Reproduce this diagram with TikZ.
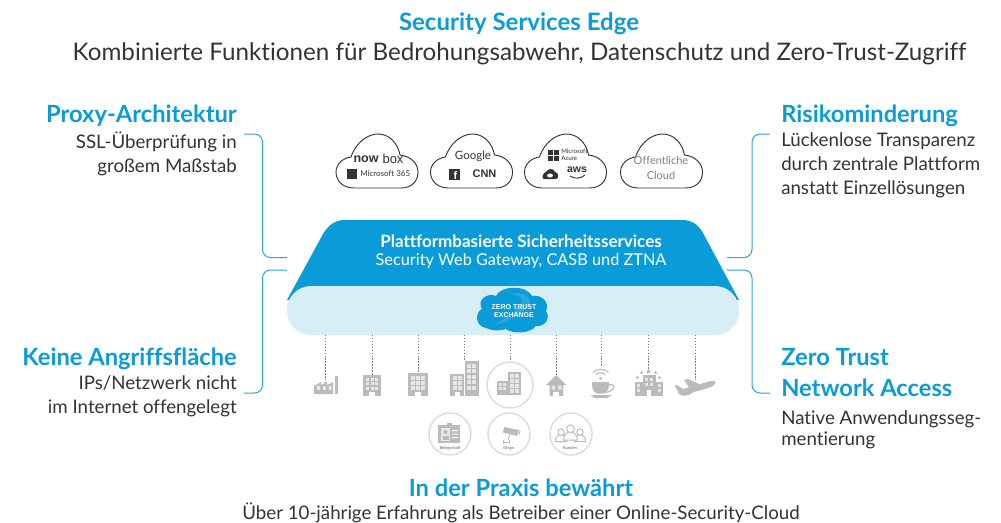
\documentclass[tikz,border=0pt]{standalone}
\usepackage{fontspec}
\setmainfont{Lato}[Ligatures=CommonOff]
\newfontfamily\arialfont{Liberation Sans}
\definecolor{brandblue}{HTML}{0A9CD8}
\definecolor{swirlblue}{HTML}{2AA9DE}
\definecolor{bandblue}{HTML}{D7EEF7}
\definecolor{inktext}{HTML}{333333}
\definecolor{icongray}{HTML}{BBBBBB}
\definecolor{iconlight}{HTML}{E6E6E6}
\definecolor{ringgray}{HTML}{DDDDDD}
\definecolor{bracketblue}{HTML}{2AA5DC}
\newcommand{\pxfont}[2]{\fontsize{\dimexpr#1pt*3/4\relax}{\dimexpr#2pt*3/4\relax}\selectfont}
\newcommand{\winds}[8]{\foreach \ii in {1,...,#3}{\foreach \jj in {1,...,#4}{%
  \fill[iconlight] ({#1+(\ii-1)*#7},{#2+(\jj-1)*#8}) rectangle ++(#5,#6);}}}
\newcommand{\starat}[3]{\begin{scope}[shift={(#1,#2)},scale=#3]
  \fill[icongray] (0,-1)--(.28,-.32)--(1,-.3)--(.45,.14)--(.62,.85)--(0,.45)--(-.62,.85)--(-.45,.14)--(-1,-.3)--(-.28,-.32)--cycle;
  \end{scope}}
\newcommand{\personat}[3]{\begin{scope}[shift={(#1,#2)},scale=#3]
  \draw[icongray,fill=white,line width=.7pt] (-6,8) .. controls (-6,3) and (-3,2) .. (-2,1) -- (2,1) .. controls (3,2) and (6,3) .. (6,8) -- cycle;
  \draw[icongray,fill=white,line width=.7pt] (0,-2) circle[radius=3.4];
  \end{scope}}
\tikzset{
  x=0.75pt,y=-0.75pt,
  heading/.style={font=\pxfont{23.7}{27}\bfseries,text=brandblue,inner sep=0pt},
  bodyleft/.style={font=\pxfont{18.7}{24},text=inktext,inner sep=0pt,align=right,anchor=north east},
  bodyright/.style={font=\pxfont{18.7}{24},text=inktext,inner sep=0pt,align=left,anchor=north west},
  bracket/.style={draw=bracketblue,line width=.75pt,rounded corners=6pt},
  droplink/.style={draw=gray,line width=.75pt,dash pattern=on 1.1pt off 1.1pt},
  ringicon/.style={draw=ringgray,line width=1.1pt,fill=white},
  cloudlabel/.style={inner sep=0pt,text=inktext},
  tinylabel/.style={inner sep=0pt,text=gray,font=\pxfont{4}{5}\bfseries},
  cloudshape/.pic={
    \draw[draw=inktext,line width=.7pt,fill=white,pic actions]
      (18,54) .. controls (6,54) and (0,46) .. (0,38)
      .. controls (0,30) and (7,24) .. (15,23)
      .. controls (20,8) and (32,0) .. (42,0)
      .. controls (54,0) and (62,10) .. (64,21)
      .. controls (74,22) and (82,29) .. (82,38)
      .. controls (82,47) and (76,54) .. (65,54) -- cycle;
  },
}
\begin{document}
\begin{tikzpicture}
\useasboundingbox (0,0) rectangle (1001,522);

% ---------- titles
\node[heading,font=\pxfont{24}{27}\bfseries] (title) at (519,23.5) {Security Services Edge};
\node[inner sep=0pt,font=\pxfont{24.2}{27},text=inktext] (subtitle) at (519.5,54) {Kombinierte Funktionen für Bedrohungsabwehr, Datenschutz und Zero-Trust-Zugriff};

% ---------- left texts
\node[heading,anchor=east] (proxy) at (237,115.5) {Proxy-Architektur};
\node[bodyleft] (proxytxt) at (237,132) {SSL-Überprüfung in\\großem Maßstab};
\node[heading,anchor=east] (keine) at (237,358.5) {Keine Angriffsfläche};
\node[bodyleft] (keinetxt) at (237,375) {IPs/Netzwerk nicht\\im Internet offengelegt};

% ---------- right texts
\node[heading,anchor=west] (risk) at (781,115.5) {Risikominderung};
\node[bodyright] (risktxt) at (781,132.5) {Lückenlose Transparenz\\durch zentrale Plattform\\anstatt Einzellösungen};
\node[heading,anchor=north west,align=left,font=\pxfont{23.7}{31}\bfseries] (ztna) at (781,348) {Zero Trust\\Network Access};
\node[bodyright,font=\pxfont{18.7}{21.5}] (ztnatxt) at (781,410) {Native Anwendungsseg-\\mentierung};

% ---------- bottom
\node[heading] (praxis) at (521,488) {In der Praxis bewährt};
\node[inner sep=0pt,font=\pxfont{18.7}{22},text=inktext] (praxistxt) at (521,512.5) {Über 10-jährige Erfahrung als Betreiber einer Online-Security-Cloud};

% ---------- brackets
\coordinate (lua) at (244,134); \coordinate (lub) at (287,257.5);
\coordinate (lla) at (287,270); \coordinate (llb) at (244,393);
\coordinate (rua) at (770,134); \coordinate (rub) at (727,257.5);
\coordinate (rla) at (727,270); \coordinate (rlb) at (770,393);
\draw[bracket] (lua) -| (262.5,257.5) -- (lub);
\draw[bracket] (lla) -| (262.5,393) -- (llb);
\draw[bracket] (rua) -| (752,257.5) -- (rub);
\draw[bracket] (rla) -| (752,393) -- (rlb);

% ---------- clouds
\pic at (336,134) {cloudshape};
\pic at (430.5,134) {cloudshape};
\pic at (524.5,134) {cloudshape};
\pic[draw=gray] at (620.5,134) {cloudshape};

\node[cloudlabel,font=\arialfont\pxfont{12.5}{13}\bfseries] (now) at (366,159) {now};
\node[cloudlabel,font=\arialfont\pxfont{13}{13}] (box) at (393,158.5) {box};
\fill[inktext] (347,169) rectangle (357,179);
\node[cloudlabel,font=\pxfont{8}{10},anchor=west] (ms365) at (360,174) {Microsoft 365};

\node[cloudlabel,font=\pxfont{11.5}{13}] (google) at (473,156) {Google};
\fill[inktext] (449,169) rectangle (460,180);
\node[cloudlabel,text=white,font=\arialfont\pxfont{11}{11}\bfseries] (fb) at (455.5,175.5) {f};
\node[cloudlabel,font=\arialfont\pxfont{11}{13}\bfseries] (cnn) at (484.5,174) {CNN};

\foreach \xx/\yy in {548/150,554/150,548/156,554/156}{\fill[inktext] (\xx,\yy) rectangle ++(5,5);}
\node[cloudlabel,font=\pxfont{6.2}{7},align=left,anchor=west] (azure) at (561,155) {Microsoft\\Azure};
\fill[inktext] (544,179) .. controls (541,179) and (543,172) .. (546,172) .. controls (548,168) and (554,168) .. (555,172) .. controls (559,172) and (559,179) .. (556,179) -- cycle;
\fill[white] (550,175.5) ellipse[x radius=3,y radius=2];
\node[cloudlabel,font=\arialfont\pxfont{10.5}{11}\bfseries] (aws) at (577,170) {aws};
\draw[inktext,line width=.7pt] (570,176) .. controls (575,179) and (580,179) .. (585,175);

\node[inner sep=0pt,text=gray,font=\pxfont{11}{14.5},align=center] (public) at (661,167) {Öffentliche\\Cloud};

% ---------- platform
\fill[brandblue] (287,300) -- (323,234) .. controls (329,224) and (336,220) .. (345,220)
  -- (682,220) .. controls (691,220) and (698,224) .. (703,233) -- (739,300) -- cycle;
\fill[bandblue,rounded corners=18pt] (287,286) rectangle (739,335);
\node[inner sep=0pt,text=white,font=\pxfont{17}{18}\bfseries] (plat1) at (521,241.5) {Plattformbasierte Sicherheitsservices};
\node[inner sep=0pt,text=white,font=\pxfont{16.3}{18}] (plat2) at (521,260.5) {Security Web Gateway, CASB und ZTNA};

% ---------- ZTE cloud
\fill[brandblue] (486,328) .. controls (476,327) and (474,313) .. (482,309)
  .. controls (476,300) and (488,292) .. (496,296)
  .. controls (500,286) and (526,284) .. (532,296)
  .. controls (542,294) and (550,303) .. (546,311)
  .. controls (551,318) and (545,327) .. (536,326)
  .. controls (530,334) and (512,334) .. (506,329)
  .. controls (500,331) and (492,331) .. (486,328) -- cycle;
\fill[swirlblue] (510,294) .. controls (520,291) and (530,296) .. (530,302)
  .. controls (528,312) and (512,318) .. (494,326) .. controls (506,316) and (524,308) .. (522,300)
  .. controls (521,296) and (515,295) .. (510,294) -- cycle;
\node[inner sep=0pt,text=white,align=center,font=\arialfont\pxfont{7}{8}\bfseries] (zte) at (514,311) {ZERO TRUST\\EXCHANGE};

% ---------- drop links
\foreach \nn/\xx/\yy in {a/325/383,b/372/375,c/418/373,d/464/361,e/510/360,f/556/375,g/601/367,h/648/370,i/695/380}{
  \coordinate (top\nn) at (\xx,335);
  \coordinate (end\nn) at (\xx,\yy);
  \draw[droplink] (top\nn) -- (end\nn);
}

% ---------- factory
\fill[icongray] (314,394) -- (314,386) -- (321,382) -- (321,385) -- (327,382) -- (327,385) -- (333,382) -- (333,394) -- cycle;
\fill[icongray] (334.5,376) rectangle (338,394);
\fill[iconlight] (317,386) rectangle (320,390) (323,386) rectangle (326,390) (328.5,386) rectangle (331.5,390);

% ---------- buildings
\fill[icongray] (363,375) rectangle (381,396);
\winds{366}{377.5}{3}{3}{3}{3}{4.5}{4.5}
\fill[white] (369,392) rectangle (375,396);

\fill[icongray] (408,373) rectangle (428,396);
\winds{411}{376}{3}{3}{3.6}{3.6}{5}{5}
\fill[white] (415,392) rectangle (421,396);

\fill[icongray] (450,374) rectangle (464,396);
\fill[icongray] (464.5,361) rectangle (479,396);
\winds{453}{376}{2}{3}{3.5}{3.5}{5}{5}
\winds{466.5}{363.5}{2}{5}{4}{4}{5.5}{5.5}
\fill[white] (455,392) rectangle (460,396);

% ---------- ring with office
\draw[ringicon] (510,385) circle[radius=23];
\fill[icongray] (497,381) rectangle (508,395);
\fill[icongray] (507.5,372) rectangle (521,395);
\winds{499}{383}{2}{2}{3}{3}{4}{4}
\winds{510}{374}{2}{4}{4}{4}{5}{5}

% ---------- house
\fill[icongray] (546,385) -- (556,375) -- (566.5,385) -- (563,385) -- (563,396) -- (549.5,396) -- (549.5,385) -- cycle;
\fill[iconlight] (551.5,385.5) rectangle (555,389.5) (558,385.5) rectangle (561.5,389.5);
\fill[white] (553,392) rectangle (559,396);

% ---------- coffee
\draw[icongray,line width=.9pt] (593,372.5) arc[start angle=-135,end angle=-45,radius=11];
\draw[icongray,line width=.9pt] (596,374.5) arc[start angle=-135,end angle=-45,radius=6.5];
\fill[icongray] (600.5,378.5) circle[radius=1.7];
\fill[icongray] (592,382) -- (609,382) -- (609,385) .. controls (609,390) and (606,393.5) .. (603,393.5) -- (598,393.5) .. controls (595,393.5) and (592,390) .. (592,385) -- cycle;
\draw[icongray,line width=.9pt] (609,385) .. controls (616,383) and (616,391) .. (605,392.5);
\fill[icongray] (590,395) -- (612,395) -- (607,398) -- (595,398) -- cycle;

% ---------- hotel
\fill[icongray] (634.5,381.5) rectangle (643,396);
\fill[icongray] (642.5,375) rectangle (655.5,396);
\fill[icongray] (655,381.5) rectangle (663,396);
\winds{645}{378}{2}{2}{3}{3}{5}{5}
\winds{636.5}{384}{1}{2}{3}{3}{4}{5}
\winds{658}{384}{1}{2}{3}{3}{4}{5}
\fill[white] (647,390) rectangle (651,396);
\starat{648.5}{371.5}{2.8}
\starat{641.5}{372.5}{2}
\starat{655.5}{372.5}{2}
\starat{637.5}{377.5}{2}
\starat{659.5}{377.5}{2}

% ---------- plane
\fill[icongray] (674.5,386) -- (677,385) -- (683,389) -- (707,382) .. controls (712,380) and (716,381) .. (715.5,383)
  .. controls (715,386) and (709,388) .. (703,389.5) -- (696,391.5) -- (682,395) .. controls (680,396) and (678,394) .. (678,391) -- cycle;
\fill[icongray] (684,380) -- (688,379) -- (701,385) -- (690,389) -- cycle;
\fill[icongray] (686,390) -- (696,390) -- (689,395) -- (682,396) -- cycle;

% ---------- lower rings
\draw[ringicon] (450,434) circle[radius=21];
\draw[ringicon] (509,434) circle[radius=21];
\draw[ringicon] (571,434) circle[radius=21];

% badge
\fill[icongray] (438,425) rectangle (460,443);
\fill[iconlight] (441,427.5) rectangle (450,441);
\fill[icongray] (445.5,432) circle[radius=2];
\fill[icongray] (442.5,439.5) rectangle (449,436);
\fill[white] (452,430) rectangle (458,431) (452,433.5) rectangle (458,434.5) (452,437) rectangle (458,438);
\fill[icongray] (447,423) rectangle (451.5,428);
\node[tinylabel] (beleg) at (450,448.5) {Belegschaft};

% camera
\fill[icongray] (504,427) -- (519,430) -- (517,436) -- (503,432.5) -- cycle;
\draw[icongray,line width=.7pt] (503,440) -- (503,444) (503,442) -- (509,442) (509,439.5) -- (509,444);
\draw[icongray,line width=.7pt] (510,434) -- (508,440);
\draw[icongray,line width=.7pt] (520,431) -- (519,435);
\node[tinylabel] (dinge) at (508.5,448.5) {Dinge};

% people
\personat{561}{434}{.95}
\personat{580}{434}{.95}
\personat{570.5}{431}{1.15}
\node[tinylabel] (kunden) at (570,448.5) {Kunden};
\end{tikzpicture}
\end{document}
